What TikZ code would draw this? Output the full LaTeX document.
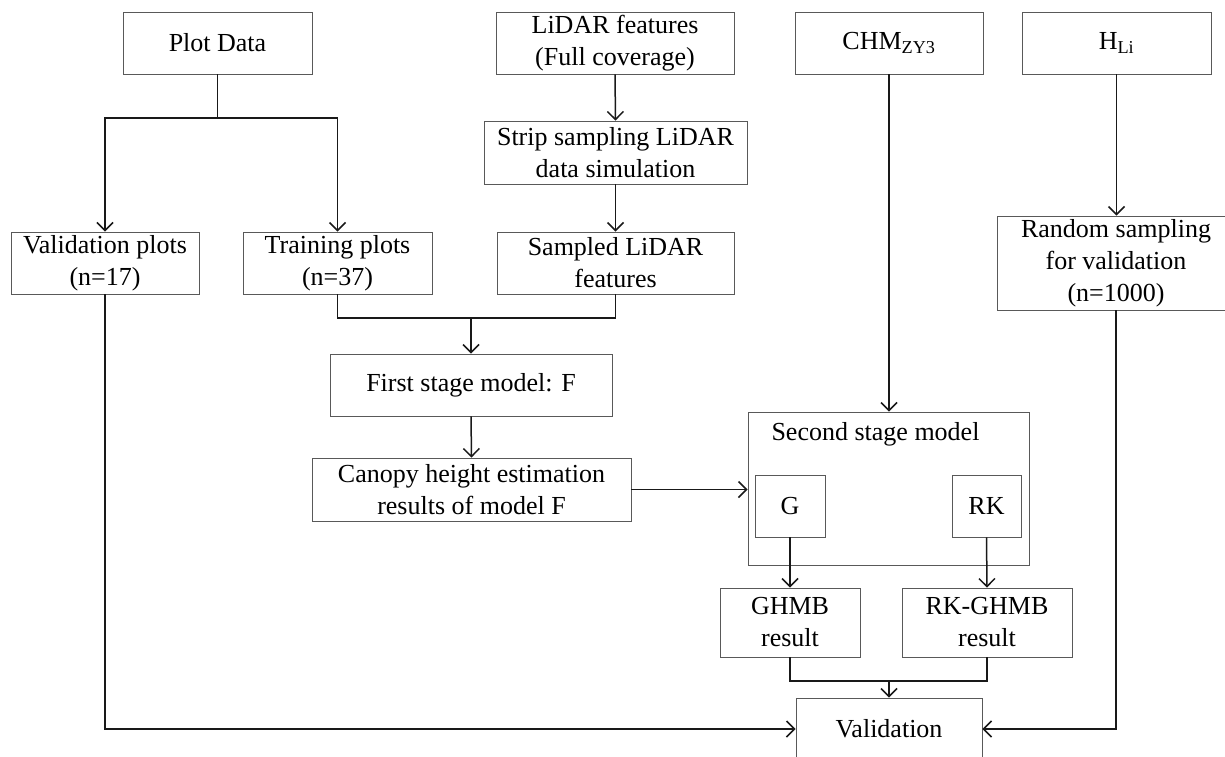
\documentclass[tikz,border=0pt]{standalone}
\usepackage{fontspec}
\setmainfont{Liberation Serif}
\usetikzlibrary{arrows.meta}
\tikzset{
  bx/.style={draw=black!65, line width=0.9pt, inner sep=0pt, align=center,
    font=\fontsize{26}{32}\selectfont},
  ln/.style={line width=1.5pt, draw=black!90},
  arr/.style={ln, -{Straight Barb[length=8pt,width=16pt,line width=1.5pt]}},
  lbl/.style={inner sep=0pt, font=\fontsize{26}{32}\selectfont}
}
\begin{document}
\begin{tikzpicture}[x=1pt,y=-1pt]
\useasboundingbox (0,0) rectangle (1225,756);
\clip (0,0) rectangle (1225,756);
% top row
\node[bx, minimum width=189pt, minimum height=62pt] (plot) at (217.5,43) {Plot Data};
\node[bx, minimum width=238pt, minimum height=62pt] (lidar) at (615,43) {LiDAR features\\(Full coverage)};
\node[bx, minimum width=188pt, minimum height=62pt] (chm) at (889,43) {CHM\textsubscript{ZY3}};
\node[bx, minimum width=189pt, minimum height=62pt] (hli) at (1116.5,43) {H\textsubscript{Li}};
% second
\node[bx, minimum width=263pt, minimum height=63pt] (strip) at (615.5,152.5) {Strip sampling LiDAR\\data simulation};
% third row
\node[bx, minimum width=188pt, minimum height=62pt] (valp) at (105,263) {Validation plots\\(n=17)};
\node[bx, minimum width=189pt, minimum height=62pt] (train) at (337.5,263) {Training plots\\(n=37)};
\node[bx, minimum width=237pt, minimum height=62pt] (samp) at (615.5,263) {Sampled LiDAR\\features};
\node[bx, minimum width=238pt, minimum height=94pt] (rand) at (1116,263) {Random sampling\\for validation\\(n=1000)};
% first stage
\node[bx, minimum width=282pt, minimum height=62pt] (first) at (471,385) {First stage model: F};
\node[bx, minimum width=319pt, minimum height=63pt] (canopy) at (471.5,489.5) {Canopy height estimation\\results of model F};
% second stage
\node[bx, minimum width=281pt, minimum height=153pt] (second) at (888.5,488.5) {};
\node[lbl] (sectitle) at (875.5,434) {Second stage model};
\node[bx, minimum width=70pt, minimum height=62pt] (g) at (790,506) {G};
\node[bx, minimum width=69pt, minimum height=62pt] (rk) at (986.5,506) {RK};
\node[bx, minimum width=140pt, minimum height=69pt] (ghmb) at (790,622.5) {GHMB\\result};
\node[bx, minimum width=170pt, minimum height=69pt] (rkghmb) at (987,622.5) {RK-GHMB\\result};
\node[bx, minimum width=186pt, minimum height=62pt] (valid) at (889,729) {Validation};
% junction coordinates
\coordinate (pj) at (217.5,118);
\coordinate (tj) at (471,318);
\coordinate (rj) at (889,681);
% connectors
\draw[ln] (plot.south) -- (pj);
\draw[arr] (pj) -| (valp.north);
\draw[arr] (pj) -| (train.north);
\draw[arr] (lidar.south) -- (strip.north);
\draw[arr] (strip.south) -- (samp.north);
\draw[ln] (train.south) |- (tj);
\draw[ln] (samp.south) |- (tj);
\draw[arr] (tj) -- (first.north);
\draw[arr] (first.south) -- (canopy.north);
\draw[arr] (canopy.east) -- (canopy.east -| second.west);
\draw[arr] (chm.south) -- (chm.south |- second.north);
\draw[arr] (hli.south) -- (hli.south |- rand.north);
\draw[arr] (g.south) -- (ghmb.north);
\draw[arr] (rk.south) -- (rkghmb.north);
\draw[ln] (ghmb.south) |- (rj);
\draw[ln] (rkghmb.south) |- (rj);
\draw[arr] (rj) -- (valid.north);
\draw[arr] (valp.south) |- (valid.west);
\draw[arr] (rand.south) |- (valid.east);
\end{tikzpicture}
\end{document}
